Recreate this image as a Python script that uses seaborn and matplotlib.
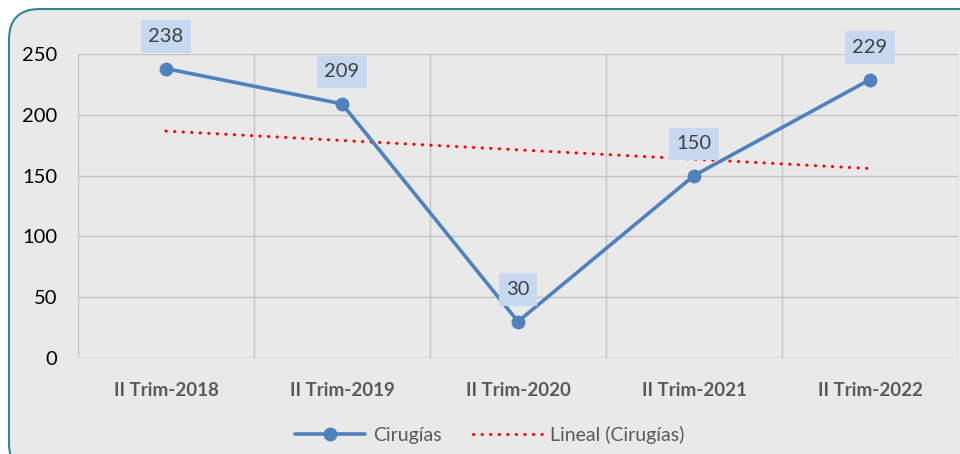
import numpy as np
import pandas as pd
import matplotlib.pyplot as plt
import seaborn as sns
from matplotlib.patches import FancyBboxPatch

# -------- Data --------
periods = ["II Trim-2018", "II Trim-2019", "II Trim-2020", "II Trim-2021", "II Trim-2022"]
surgeries = [238, 209, 30, 150, 229]
y_ticks = [0, 50, 100, 150, 200, 250]

df = pd.DataFrame({"x": np.arange(len(periods)), "Cirugías": surgeries})

# linear trend (like Excel's "Lineal")
slope, intercept = np.polyfit(df["x"], df["Cirugías"], 1)
df["trend"] = intercept + slope * df["x"]

# -------- Plot setup --------
sns.set_style("white")
plt.rcParams["font.family"] = ["Lato", "DejaVu Sans"]

bg = "#e9e9e9"
fig = plt.figure(figsize=(9.6, 4.54), dpi=100)
fig.patch.set_facecolor("white")

frame = FancyBboxPatch((9 / 960, -20 / 454), 980 / 960, 465 / 454,
                       boxstyle="round,pad=0,rounding_size=0.032",
                       transform=fig.transFigure, facecolor=bg,
                       edgecolor="#31849b", linewidth=1.5, zorder=-10,
                       mutation_aspect=960 / 454)
fig.patches.append(frame)

ax = fig.add_axes([78 / 960, 96 / 454, 880 / 960, 304 / 454])
ax.set_zorder(5)
ax.patch.set_alpha(0)

sns.lineplot(data=df, x="x", y="Cirugías", ax=ax, color="#4f81bd",
             linewidth=2.6, marker="o", markersize=10, markeredgewidth=0,
             label="Cirugías", zorder=3)
sns.lineplot(data=df, x="x", y="trend", ax=ax, color="#ff0000",
             linewidth=2.2, linestyle=(0, (0.1, 2.7)), dash_capstyle="round",
             label="Lineal (Cirugías)", zorder=2)

# data labels
for xi, v in zip(df["x"], surgeries):
    ax.annotate(str(v), (xi, v), xytext=(0, 23), textcoords="offset points",
                ha="center", va="center", fontsize=14.5, color="#404040",
                bbox=dict(boxstyle="square,pad=0.38", facecolor="#c6d9f0",
                          edgecolor="none"), zorder=4)

# -------- Axes --------
ax.set_xlim(-0.5, len(periods) - 0.5)
ax.set_ylim(0, 250)
ax.set_yticks(y_ticks)
ax.set_yticklabels([str(t) for t in y_ticks], fontsize=14.5, color="black")
ax.set_xticks(df["x"])
ax.set_xticklabels(periods, fontsize=13.5, fontweight="bold", color="#595959")
ax.tick_params(axis="y", length=0, pad=15)
ax.tick_params(axis="x", length=0, pad=17)
ax.set_xlabel("")
ax.set_ylabel("")

# gridlines: horizontal at ticks, vertical between categories
for t in y_ticks:
    ax.axhline(t, color="#c4c4c4", linewidth=1, zorder=1)
for b in np.arange(-0.5, len(periods), 1.0):
    ax.axvline(b, color="#c4c4c4", linewidth=1, zorder=1)
for s in ax.spines.values():
    s.set_visible(False)

leg = ax.legend(loc="upper center", bbox_to_anchor=(0.468, -0.165), ncol=2,
                frameon=False, fontsize=14, handlelength=3.6,
                columnspacing=1.6, handletextpad=0.4)
for txt in leg.get_texts():
    txt.set_color("#595959")

fig.savefig("out.png", dpi=100, facecolor=fig.get_facecolor())
